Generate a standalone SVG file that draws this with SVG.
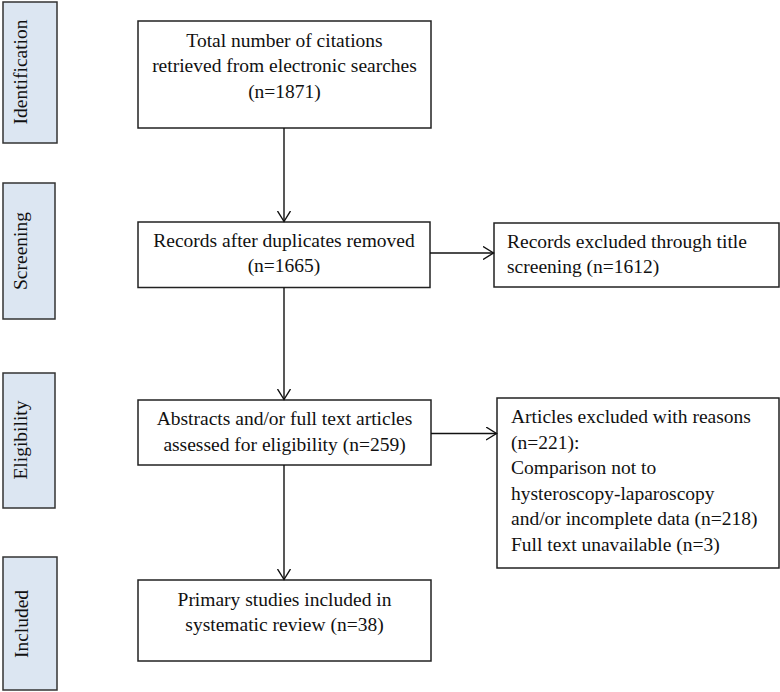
<svg xmlns="http://www.w3.org/2000/svg" width="780" height="692" viewBox="0 0 780 692">
<style>
.box{fill:#ffffff;stroke:#222222;stroke-width:1.5}
.side{fill:#dce6f2;stroke:#333333;stroke-width:1.5}
.t{font-family:"Liberation Serif","Times New Roman",serif;font-size:19.5px;fill:#111111}
.c{text-anchor:middle}
.conn{stroke:#111111;stroke-width:1.4;fill:none}
</style>
<defs>
<marker id="arr" viewBox="0 0 12 14" refX="11" refY="7" markerWidth="12" markerHeight="14" markerUnits="userSpaceOnUse" orient="auto">
<path d="M0.5,0.5 L11,7 L0.5,13.5" fill="none" stroke="#111111" stroke-width="1.4"/>
</marker>
</defs>
<rect width="780" height="692" fill="#ffffff"/>

<g id="side-identification">
<rect class="side" x="3" y="2" width="54" height="141"/>
<text class="t c" transform="translate(27,72) rotate(-90)">Identification</text>
</g>
<g id="side-screening">
<rect class="side" x="3" y="183" width="52" height="136"/>
<text class="t c" transform="translate(27,251) rotate(-90)">Screening</text>
</g>
<g id="side-eligibility">
<rect class="side" x="3" y="373" width="52" height="135"/>
<text class="t c" transform="translate(27,440) rotate(-90)">Eligibility</text>
</g>
<g id="side-included">
<rect class="side" x="3" y="557" width="54" height="133"/>
<text class="t c" transform="translate(28,624) rotate(-90)">Included</text>
</g>

<g id="box-identification">
<rect class="box" x="138" y="21" width="293" height="107"/>
<text class="t c" x="284.5" y="46.5">Total number of citations</text>
<text class="t c" x="284.5" y="72">retrieved from electronic searches</text>
<text class="t c" x="284.5" y="97.5">(n=1871)</text>
</g>

<g id="box-screening">
<rect class="box" x="138" y="222" width="292" height="65.5"/>
<text class="t c" x="284" y="247">Records after duplicates removed</text>
<text class="t c" x="284" y="272">(n=1665)</text>
</g>

<g id="box-excluded-title">
<rect class="box" x="494" y="223" width="285" height="64"/>
<text class="t" x="507" y="248">Records excluded through title</text>
<text class="t" x="507" y="273">screening (n=1612)</text>
</g>

<g id="box-eligibility">
<rect class="box" x="138" y="400" width="293" height="65"/>
<text class="t c" x="284.5" y="425">Abstracts and/or full text articles</text>
<text class="t c" x="284.5" y="450.5">assessed for eligibility (n=259)</text>
</g>

<g id="box-excluded-reasons">
<rect class="box" x="497" y="398" width="282" height="170"/>
<text class="t" x="511" y="423">Articles excluded with reasons</text>
<text class="t" x="511" y="448.6">(n=221):</text>
<text class="t" x="511" y="474.2">Comparison not to</text>
<text class="t" x="511" y="499.8">hysteroscopy-laparoscopy</text>
<text class="t" x="511" y="525.4">and/or incomplete data (n=218)</text>
<text class="t" x="511" y="551">Full text unavailable (n=3)</text>
</g>

<g id="box-included">
<rect class="box" x="138" y="580" width="293" height="81"/>
<text class="t c" x="284.5" y="605.5">Primary studies included in</text>
<text class="t c" x="284.5" y="630.5">systematic review (n=38)</text>
</g>

<g id="connectors">
<line class="conn" x1="284" y1="128" x2="284" y2="221.5" marker-end="url(#arr)"/>
<line class="conn" x1="430" y1="253" x2="493.5" y2="253" marker-end="url(#arr)"/>
<line class="conn" x1="284" y1="287.5" x2="284" y2="399.5" marker-end="url(#arr)"/>
<line class="conn" x1="431" y1="433.5" x2="496.5" y2="433.5" marker-end="url(#arr)"/>
<line class="conn" x1="284" y1="465" x2="284" y2="579.5" marker-end="url(#arr)"/>
</g>
</svg>
